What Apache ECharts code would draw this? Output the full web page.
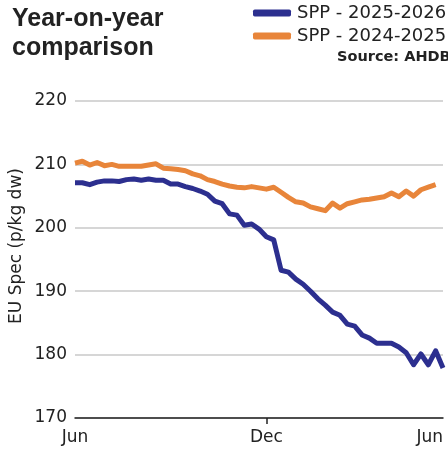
<!DOCTYPE html>
<html>
<head>
<meta charset="utf-8">
<script src="https://cdn.jsdelivr.net/npm/echarts@6/dist/echarts.min.js"></script>
<style>
    html, body { margin: 0; padding: 0; background: #fff; }
    #chart { width: 448px; height: 450px; }
</style>
</head>
<body>
<div id="chart"></div>
<script>
// weekly points, Jun to Jun
const weeks = [
    'W1', 'W2', 'W3', 'W4', 'W5', 'W6', 'W7', 'W8', 'W9', 'W10',
    'W11', 'W12', 'W13', 'W14', 'W15', 'W16', 'W17', 'W18', 'W19', 'W20',
    'W21', 'W22', 'W23', 'W24', 'W25', 'W26', 'W27', 'W28', 'W29', 'W30',
    'W31', 'W32', 'W33', 'W34', 'W35', 'W36', 'W37', 'W38', 'W39', 'W40',
    'W41', 'W42', 'W43', 'W44', 'W45', 'W46', 'W47', 'W48', 'W49', 'W50',
    'W51'
];
// which weeks carry a month label
const monthLabels = {0: 'Jun', 26: 'Dec', 50: 'Jun'};

const spp2526 = [
    207.1, 207.1, 206.8, 207.2, 207.4, 207.4, 207.3, 207.6, 207.7, 207.5,
    207.7, 207.5, 207.5, 206.9, 206.9, 206.5, 206.2, 205.8, 205.3, 204.2,
    203.8, 202.2, 202.0, 200.4, 200.6, 199.8, 198.6, 198.1, 193.3, 193.0,
    191.9, 191.1, 190.0, 188.8, 187.8, 186.7, 186.2, 184.8, 184.5, 183.1,
    182.6, 181.8, 181.8, 181.8, 181.2, 180.3, 178.4, 180.1, 178.4, 180.6,
    177.9
];
const spp2425 = [
    210.2, 210.5, 209.9, 210.3, 209.8, 210.0, 209.7, 209.7, 209.7, 209.7,
    209.9, 210.1, 209.4, 209.3, 209.2, 209.0, 208.5, 208.2, 207.6, 207.3,
    206.9, 206.6, 206.4, 206.3, 206.5, 206.3, 206.1, 206.4, 205.6, 204.8,
    204.1, 203.9, 203.3, 203.0, 202.7, 203.9, 203.1, 203.8, 204.1, 204.4,
    204.5, 204.7, 204.9, 205.5, 204.9, 205.8, 205.0, 206.0, 206.4, 206.8
];

const yTicks = {min: 170, max: 220, step: 10};

const font = 'DejaVu Sans';
const ink = '#222';

let chart = echarts.init(document.getElementById('chart'), null, {renderer: 'canvas'});

chart.setOption({
    animation: false,
    title: {
        text: 'Year-on-year\ncomparison',
        left: 12,
        top: 5,
        padding: 0,
        textStyle: {
            fontFamily: 'Liberation Sans',
            fontWeight: 'bold',
            fontSize: 25,
            lineHeight: 29,
            color: ink
        }
    },
    legend: {
        orient: 'vertical',
        left: 253,
        top: 4,
        padding: 0,
        itemWidth: 38,
        itemHeight: 7,
        itemGap: 5,
        icon: 'roundRect',
        textStyle: {fontFamily: font, fontSize: 18, color: ink, padding: [0, 0, 0, 1]},
        data: ['SPP - 2025-2026', 'SPP - 2024-2025']
    },
    graphic: [
        {
            type: 'text',
            x: 337,
            y: 57,
            style: {
                text: 'Source: AHDB',
                fontFamily: font,
                fontWeight: 'bold',
                fontSize: 14.5,
                fill: ink,
                textVerticalAlign: 'middle'
            }
        },
        {
            type: 'text',
            x: 17,
            y: 246,
            rotation: Math.PI / 2,
            style: {
                text: 'EU Spec (p/kg dw)',
                fontFamily: font,
                fontSize: 17,
                fill: ink,
                textAlign: 'center',
                textVerticalAlign: 'middle'
            }
        }
    ],
    grid: {left: 75, right: 5, top: 101, bottom: 32},
    xAxis: {
        type: 'category',
        data: weeks,
        boundaryGap: false,
        axisLine: {lineStyle: {color: '#222', width: 1.5}},
        axisTick: {
            show: true,
            interval: (idx) => idx === 26,
            length: 6,
            lineStyle: {color: '#222', width: 1.5}
        },
        axisLabel: {
            interval: (idx) => monthLabels[idx] !== undefined,
            formatter: (val, idx) => monthLabels[idx] || '',
            alignMaxLabel: 'right',
            margin: 11,
            fontFamily: font,
            fontSize: 17,
            color: ink
        },
        splitLine: {show: false}
    },
    yAxis: {
        type: 'value',
        min: yTicks.min,
        max: yTicks.max,
        interval: yTicks.step,
        axisLine: {show: false},
        axisTick: {show: false},
        axisLabel: {margin: 8, fontFamily: font, fontSize: 17, color: ink},
        splitLine: {lineStyle: {color: '#c8c8c8', width: 1.5}}
    },
    series: [
        {
            name: 'SPP - 2025-2026',
            type: 'line',
            data: spp2526,
            symbol: 'none',
            z: 3,
            itemStyle: {color: '#2c2f8f'},
            lineStyle: {width: 5, color: '#2c2f8f', join: 'round'}
        },
        {
            name: 'SPP - 2024-2025',
            type: 'line',
            data: spp2425,
            symbol: 'none',
            z: 2,
            itemStyle: {color: '#e8853a'},
            lineStyle: {width: 5, color: '#e8853a', join: 'round'}
        }
    ]
});
</script>
</body>
</html>
